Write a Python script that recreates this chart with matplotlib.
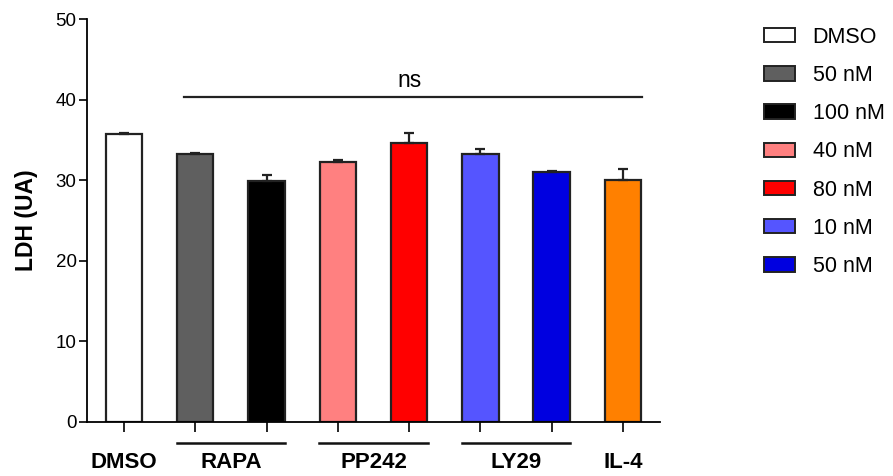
import matplotlib.pyplot as plt
from matplotlib.patches import Patch

plt.rcParams['font.family'] = ['Liberation Sans', 'DejaVu Sans']

# 数据
组名 = ['DMSO', 'RAPA', 'PP242', 'LY29', 'IL-4']
图例标签 = ['DMSO', '50 nM', '100 nM', '40 nM', '80 nM', '10 nM', '50 nM']
数值 = [35.7, 33.3, 29.85, 32.3, 34.6, 33.25, 31.0, 30.0]
误差 = [0.2, 0.1, 0.75, 0.2, 1.3, 0.65, 0.1, 1.4]
颜色 = ['#ffffff', '#5f5f5f', '#000000', '#ff8080', '#ff0000', '#5555ff', '#0000e0', '#ff8000']
组位置 = [0, 1.5, 3.5, 5.5, 7]
组线 = [(1, 2), (3, 4), (5, 6)]

fig = plt.figure(figsize=(8.93, 4.76), dpi=100)
ax = fig.add_axes([0.0974, 0.114, 0.6416, 0.846])

x = list(range(len(数值)))
ax.bar(x, 数值, width=0.51, color=颜色, edgecolor='#222222', linewidth=1.6, zorder=2)
ax.errorbar(x, 数值, yerr=[[0] * len(误差), 误差], fmt='none', ecolor='#222222',
            elinewidth=1.6, capsize=3.5, capthick=1.6, zorder=3)

ax.set_xlim(-0.52, 7.52)
ax.set_ylim(0, 50)
ax.set_yticks([0, 10, 20, 30, 40, 50])
ax.set_xticks(x)
ax.set_xticklabels([])
ax.tick_params(axis='y', direction='out', length=6, width=1.2, labelsize=13.5, pad=1.5)
ax.tick_params(axis='x', direction='out', length=7, width=1.2)
for s in ['top', 'right']:
    ax.spines[s].set_visible(False)
ax.spines['left'].set_linewidth(1.3)
ax.spines['bottom'].set_linewidth(1.3)
ax.set_ylabel('LDH (UA)', fontsize=16.5, fontweight='bold', labelpad=13)

# 显著性标注
ax.plot([0.84, 7.27], [40.3, 40.3], color='#222222', lw=1.6, clip_on=False)
ax.text(4.0, 42.4, 'ns', ha='center', va='center', fontsize=16.5)

# 组标签
for 位置, 名 in zip(组位置, 组名):
    ax.text(位置, -5.0, 名, ha='center', va='center', fontsize=16, fontweight='bold')
for a, b in 组线:
    ax.plot([a - 0.26, b + 0.26], [-2.6, -2.6], color='#111111', lw=1.8, clip_on=False)

句柄 = [Patch(facecolor=c, edgecolor='#222222', linewidth=1.4) for c in 颜色[:7]]
fig.legend(句柄, 图例标签, loc='upper left', bbox_to_anchor=(0.846, 0.962),
           frameon=False, fontsize=15.5, handlelength=1.45, handleheight=0.65,
           handletextpad=0.8, labelspacing=0.8, borderaxespad=0)

fig.savefig('out.png', dpi=100)
